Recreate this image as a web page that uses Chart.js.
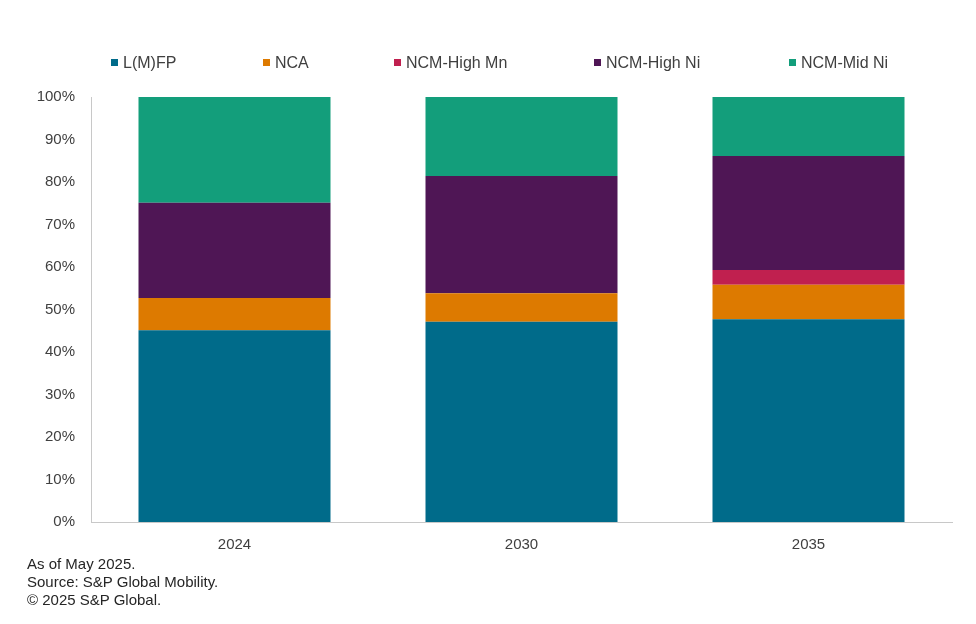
<!DOCTYPE html>
<html>
<head>
<meta charset="utf-8">
<script src="https://cdn.jsdelivr.net/npm/chart.js@4.4.1/dist/chart.umd.min.js"></script>
<style>
  body { margin: 0; background: #fff; font-family: "Liberation Sans", Arial, sans-serif; }
  #wrap { position: relative; width: 976px; height: 624px; }
  #chart { position: absolute; left: 0; top: 0; }
  .lg { position: absolute; top: 54px; font-size: 16px; color: #404040; white-space: nowrap; line-height: 18px; }
  .lg i { display: inline-block; width: 7px; height: 7px; margin-right: 5px; vertical-align: 2px; }
  #note { position: absolute; left: 27px; top: 555px; font-size: 15px; line-height: 18px; color: #262626; }
</style>
</head>
<body>
<div id="wrap">
  <canvas id="chart" width="976" height="624"></canvas>
  <div id="legend"></div>
  <div id="note">As of May 2025.<br>Source: S&amp;P Global Mobility.<br>&copy; 2025 S&amp;P Global.</div>
</div>
<script>
const years = ["2024", "2030", "2035"];
const seriesNames = ["L(M)FP", "NCA", "NCM-High Mn", "NCM-High Ni", "NCM-Mid Ni"];
const lmfp = [45.1, 47.1, 47.7];
const nca = [7.6, 6.7, 8.1];
const ncmHighMn = [0, 0, 3.5];
const ncmHighNi = [22.4, 27.6, 26.8];
const ncmMidNi = [24.9, 18.6, 13.9];
const yTicks = [0, 10, 20, 30, 40, 50, 60, 70, 80, 90, 100];

const colors = ["#006b8a", "#dd7a00", "#c0204f", "#4f1655", "#139e7b"];
const legendLeft = [111, 263, 394, 594, 789];
const values = [lmfp, nca, ncmHighMn, ncmHighNi, ncmMidNi];

// legend laid out like the original (uneven spacing)
const legend = document.getElementById("legend");
seriesNames.forEach(function (name, i) {
  const el = document.createElement("div");
  el.className = "lg";
  el.style.left = legendLeft[i] + "px";
  el.innerHTML = '<i style="background:' + colors[i] + '"></i>' + name;
  legend.appendChild(el);
});

const font = { family: "'Liberation Sans', Arial, sans-serif", size: 15 };

new Chart(document.getElementById("chart"), {
  type: "bar",
  data: {
    labels: years,
    datasets: seriesNames.map(function (name, i) {
      return {
        label: name,
        data: values[i],
        backgroundColor: colors[i],
        borderWidth: 0,
        barPercentage: 0.669,
        categoryPercentage: 1.0,
      };
    }),
  },
  options: {
    responsive: false,
    animation: false,
    layout: { padding: { top: 97, right: 24, left: 0, bottom: 0 } },
    plugins: {
      legend: { display: false },
      tooltip: { enabled: true },
    },
    scales: {
      x: {
        stacked: true,
        grid: { display: false },
        border: { display: true, color: "#c8c8c8", width: 1 },
        ticks: { color: "#404040", font: font, padding: 6 },
        afterFit: function (s) { s.height = 102; },
      },
      y: {
        stacked: true,
        min: 0,
        max: 100,
        grid: { display: false, drawTicks: false },
        border: { display: true, color: "#c8c8c8", width: 1 },
        afterBuildTicks: function (s) {
          s.ticks = yTicks.map(function (v) { return { value: v }; });
        },
        ticks: {
          color: "#404040",
          font: font,
          padding: 16,
          callback: function (v) { return v + "%"; },
        },
        afterFit: function (s) { s.width = 91; },
      },
    },
  },
});
</script>
</body>
</html>
